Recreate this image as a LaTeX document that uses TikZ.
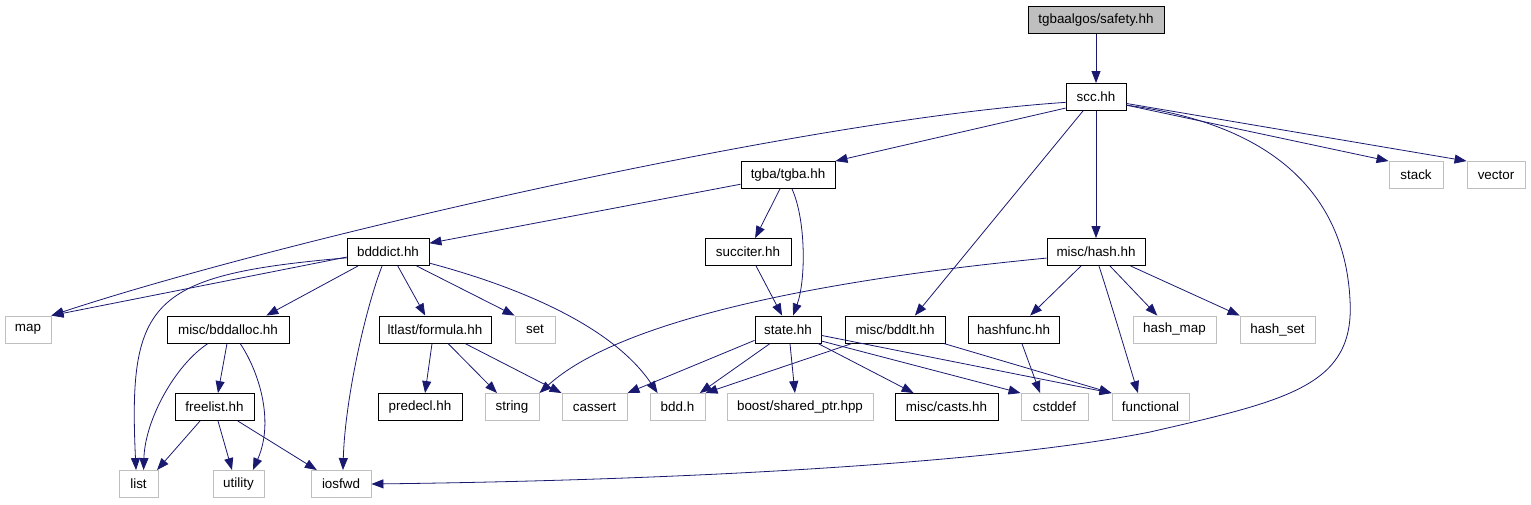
\documentclass[tikz,border=0pt]{standalone}
\usepackage{fontspec}
\setmainfont{Liberation Sans}
\usetikzlibrary{arrows.meta}
\definecolor{edgeblue}{HTML}{191970}
\definecolor{boxgray}{HTML}{BFBFBF}

\begin{document}
\begin{tikzpicture}[
    x=1pt, y=-1pt,
    hdr/.style={draw=black, line width=0.9pt, minimum height=27pt, inner sep=0pt, font=\fontsize{13.4}{16}\selectfont},
    sys/.style={draw=boxgray, line width=0.9pt, minimum height=27pt, inner sep=0pt, font=\fontsize{13.4}{16}\selectfont},
    dep/.style={-{Triangle[length=12pt, width=9pt]}, draw=edgeblue, fill=none, line width=0.8pt}
  ]
    \useasboundingbox (0,0) rectangle (1531,504);
    \node[hdr, fill=boxgray, minimum width=136pt] (safety) at (1096,20) {tgbaalgos/safety.hh};
    \node[hdr, minimum width=60pt]  (scc)      at (1096,97)    {scc.hh};
    \node[sys, minimum width=54pt]  (stack)    at (1416,175)   {stack};
    \node[sys, minimum width=58pt]  (vector)   at (1496,175)   {vector};
    \node[hdr, minimum width=94pt]  (tgba)     at (788,175)    {tgba/tgba.hh};
    \node[hdr, minimum width=86pt]  (succiter) at (748,252)    {succiter.hh};
    \node[hdr, minimum width=82pt]  (bdddict)  at (388,252)    {bdddict.hh};
    \node[hdr, minimum width=98pt]  (hash)     at (1096,252)   {misc/hash.hh};
    \node[sys, minimum width=46pt]  (map)      at (28,329.5)   {map};
    \node[hdr, minimum width=122pt] (bddalloc) at (228,329.5)  {misc/bddalloc.hh};
    \node[hdr, minimum width=112pt] (formula)  at (435,329.5)  {ltlast/formula.hh};
    \node[sys, minimum width=40pt]  (set)      at (535,329.5)  {set};
    \node[hdr, minimum width=66pt]  (state)    at (788,329.5)  {state.hh};
    \node[hdr, minimum width=100pt] (bddlt)    at (895,329.5)  {misc/bddlt.hh};
    \node[hdr, minimum width=91pt]  (hashfunc) at (1013.5,329.5) {hashfunc.hh};
    \node[sys, minimum width=83pt]  (hashmap)  at (1174.5,329.5) {hash\_map};
    \node[sys, minimum width=75pt]  (hashset)  at (1277.5,329.5) {hash\_set};
    \node[hdr, minimum width=79pt]  (freelist) at (214.5,407)  {freelist.hh};
    \node[hdr, minimum width=84pt]  (predecl)  at (420,407)    {predecl.hh};
    \node[sys, minimum width=54pt]  (string)   at (512,407)    {string};
    \node[sys, minimum width=65pt]  (cassert)  at (594.5,407)  {cassert};
    \node[sys, minimum width=55pt]  (bdd)      at (677.5,407)  {bdd.h};
    \node[sys, minimum width=146pt] (boost)    at (800,407)    {boost/shared\_ptr.hpp};
    \node[hdr, minimum width=103pt] (casts)    at (946.5,407)  {misc/casts.hh};
    \node[sys, minimum width=67pt]  (cstddef)  at (1054.5,407) {cstddef};
    \node[sys, minimum width=77pt]  (functional) at (1150.5,407) {functional};
    \node[sys, minimum width=39pt]  (list)     at (138.5,484)  {list};
    \node[sys, minimum width=51pt]  (utility)  at (238.5,484)  {utility};
    \node[sys, minimum width=60pt]  (iosfwd)   at (341,484)    {iosfwd};
    \draw[dep] (safety) -- (scc);
    \draw[dep] (scc) -- (hash);
    \draw[dep] (scc.-15) -- (stack.north west);
    \draw[dep] (scc.-12) -- (vector.north west);
    \draw[dep] (scc.200) -- (tgba.north east);
    \draw[dep] (scc.190) .. controls (800,120) and (280,240) .. (map.north east);
    \draw[dep] (scc.227) -- (bddlt.35);
    \draw[dep] (scc.-15) .. controls (1280,125) and (1345,200) .. (1350,300)
      .. controls (1355,385) and (1290,400) .. (1150,432)
      .. controls (1000,462) and (700,480) .. (iosfwd.east);
    \draw[dep] (tgba.191) -- (bdddict.12);
    \draw[dep] (tgba.240) -- (succiter.63);
    \draw[dep] (tgba.286) .. controls (806,220) and (806,280) .. (state.70);
    \draw[dep] (succiter.300) -- (state.113);
    \draw[dep] (bdddict.187) -- (map.north east);
    \draw[dep] (bdddict.188) .. controls (150,275) and (128,300) .. (list.100);
    \draw[dep] (bdddict.205) -- (bddalloc.20);
    \draw[dep] (bdddict.247) .. controls (365,310) and (345,400) .. (iosfwd.82);
    \draw[dep] (bdddict.305) -- (formula.125);
    \draw[dep] (bdddict.334) -- (set.north west);
    \draw[dep] (bdddict.-15) .. controls (530,290) and (615,330) .. (bdd.145);
    \draw[dep] (bddalloc.215) .. controls (175,365) and (145,420) .. (list.70);
    \draw[dep] (bddalloc.266) -- (freelist.76);
    \draw[dep] (bddalloc.311) .. controls (258,370) and (275,420) .. (utility.44);
    \draw[dep] (freelist.224) -- (list.37);
    \draw[dep] (freelist.284) -- (utility.115);
    \draw[dep] (freelist.329) -- (iosfwd.150);
    \draw[dep] (formula.258) -- (predecl.70);
    \draw[dep] (formula.313) -- (string.137);
    \draw[dep] (formula.335) -- (cassert.north west);
    \draw[dep] (hash.187) .. controls (820,280) and (620,320) .. (string.north east);
    \draw[dep] (state.198) -- (cassert.north east);
    \draw[dep] (state.218) -- (bdd.32);
    \draw[dep] (state.278) -- (boost.110);
    \draw[dep] (state.335) -- (casts.157);
    \draw[dep] (state.341) -- (cstddef.north west);
    \draw[dep] (state.350) -- (functional.north west);
    \draw[dep] (bddlt.198) -- (bdd.north east);
    \draw[dep] (bddlt.344) -- (functional.north west);
    \draw[dep] (hash.223) -- (hashfunc.40);
    \draw[dep] (hash.282) .. controls (1110,300) and (1125,350) .. (functional.132);
    \draw[dep] (hash.315) -- (hashmap.141);
    \draw[dep] (hash.338) -- (hashset.north west);
    \draw[dep] (hashfunc.301) -- (cstddef.136);
  \end{tikzpicture}
\end{document}
